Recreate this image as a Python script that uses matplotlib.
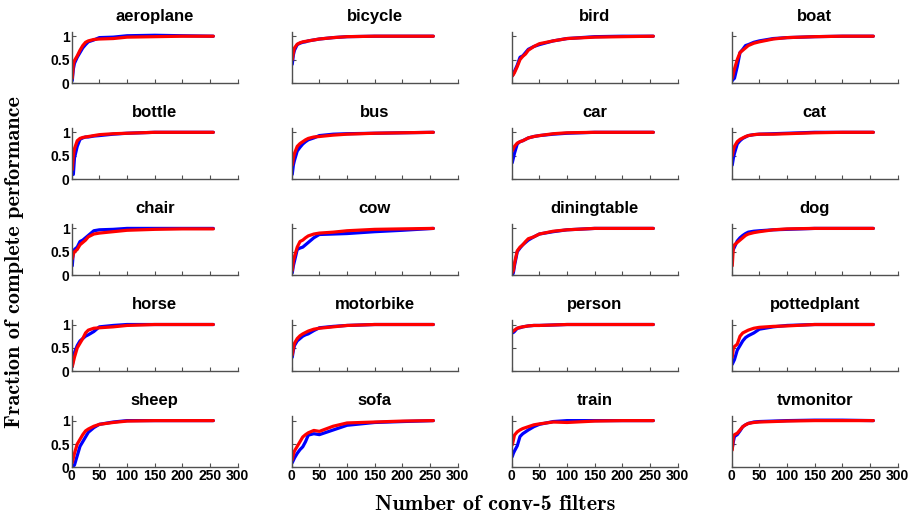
import numpy as np
import matplotlib
matplotlib.use("Agg")
import matplotlib.pyplot as plt

# number of conv-5 filters where the curves were read
filters = [1, 3, 5, 10, 15, 20, 25, 30, 40, 50, 75, 100, 150, 200, 256]

classes = ['aeroplane', 'bicycle', 'bird', 'boat',
           'bottle', 'bus', 'car', 'cat',
           'chair', 'cow', 'diningtable', 'dog',
           'horse', 'motorbike', 'person', 'pottedplant',
           'sheep', 'sofa', 'train', 'tvmonitor']

# blue curves
blue = {
    'aeroplane':   [0.05, 0.30, 0.42, 0.55, 0.65, 0.75, 0.82, 0.88, 0.92, 0.97, 0.98, 1.01, 1.02, 1.01, 1.00],
    'bicycle':     [0.40, 0.60, 0.70, 0.82, 0.85, 0.87, 0.88, 0.90, 0.92, 0.94, 0.97, 0.99, 1.00, 1.00, 1.00],
    'bird':        [0.15, 0.20, 0.25, 0.38, 0.55, 0.58, 0.65, 0.72, 0.78, 0.82, 0.90, 0.95, 0.99, 1.00, 1.00],
    'boat':        [0.05, 0.08, 0.10, 0.35, 0.65, 0.72, 0.80, 0.82, 0.87, 0.90, 0.95, 0.97, 0.99, 1.00, 1.00],
    'bottle':      [0.10, 0.10, 0.45, 0.70, 0.85, 0.88, 0.90, 0.90, 0.92, 0.93, 0.96, 0.98, 1.00, 1.00, 1.00],
    'bus':         [0.10, 0.30, 0.40, 0.60, 0.68, 0.75, 0.80, 0.84, 0.88, 0.93, 0.96, 0.97, 0.98, 0.99, 1.00],
    'car':         [0.35, 0.45, 0.55, 0.75, 0.80, 0.82, 0.85, 0.88, 0.91, 0.93, 0.96, 0.98, 1.00, 1.00, 1.00],
    'cat':         [0.30, 0.45, 0.55, 0.75, 0.82, 0.87, 0.90, 0.93, 0.95, 0.96, 0.97, 0.98, 1.00, 1.00, 1.00],
    'chair':       [0.20, 0.50, 0.55, 0.60, 0.72, 0.75, 0.80, 0.85, 0.95, 0.97, 0.98, 1.00, 1.00, 1.00, 1.00],
    'cow':         [0.05, 0.20, 0.30, 0.55, 0.58, 0.60, 0.65, 0.70, 0.80, 0.87, 0.88, 0.89, 0.93, 0.96, 1.00],
    'diningtable': [0.00, 0.05, 0.20, 0.50, 0.58, 0.65, 0.70, 0.75, 0.82, 0.88, 0.93, 0.97, 1.00, 1.00, 1.00],
    'dog':         [0.50, 0.55, 0.60, 0.73, 0.80, 0.85, 0.89, 0.92, 0.94, 0.95, 0.97, 0.98, 1.00, 1.00, 1.00],
    'horse':       [0.10, 0.30, 0.40, 0.55, 0.65, 0.70, 0.75, 0.78, 0.85, 0.95, 0.98, 1.00, 1.00, 1.00, 1.00],
    'motorbike':   [0.30, 0.45, 0.55, 0.65, 0.70, 0.75, 0.78, 0.80, 0.87, 0.93, 0.96, 0.98, 1.00, 1.00, 1.00],
    'person':      [0.82, 0.83, 0.85, 0.92, 0.93, 0.95, 0.96, 0.97, 0.98, 0.98, 0.99, 1.00, 1.00, 1.00, 1.00],
    'pottedplant': [0.15, 0.20, 0.25, 0.45, 0.55, 0.65, 0.72, 0.76, 0.82, 0.90, 0.95, 0.98, 1.00, 1.00, 1.00],
    'sheep':       [0.00, 0.03, 0.05, 0.25, 0.45, 0.55, 0.65, 0.75, 0.85, 0.92, 0.97, 1.00, 1.00, 1.00, 1.00],
    'sofa':        [0.10, 0.15, 0.20, 0.30, 0.38, 0.44, 0.55, 0.69, 0.72, 0.70, 0.80, 0.90, 0.96, 0.98, 1.00],
    'train':       [0.23, 0.30, 0.35, 0.46, 0.66, 0.72, 0.76, 0.80, 0.87, 0.92, 0.98, 1.00, 1.00, 1.00, 1.00],
    'tvmonitor':   [0.41, 0.55, 0.66, 0.70, 0.78, 0.87, 0.91, 0.94, 0.97, 0.98, 0.99, 1.00, 1.01, 1.01, 1.00],
}

# red curves
red = {
    'aeroplane':   [0.10, 0.40, 0.48, 0.58, 0.70, 0.80, 0.87, 0.90, 0.93, 0.94, 0.95, 0.98, 0.99, 1.00, 1.00],
    'bicycle':     [0.50, 0.65, 0.75, 0.83, 0.86, 0.88, 0.89, 0.90, 0.92, 0.94, 0.97, 0.99, 1.00, 1.00, 1.00],
    'bird':        [0.15, 0.18, 0.22, 0.35, 0.50, 0.57, 0.62, 0.70, 0.78, 0.84, 0.90, 0.95, 0.98, 0.99, 1.00],
    'boat':        [0.10, 0.20, 0.30, 0.50, 0.65, 0.70, 0.75, 0.80, 0.85, 0.88, 0.94, 0.97, 0.99, 1.00, 1.00],
    'bottle':      [0.20, 0.50, 0.65, 0.82, 0.87, 0.89, 0.90, 0.91, 0.93, 0.95, 0.97, 0.98, 1.00, 1.00, 1.00],
    'bus':         [0.30, 0.45, 0.55, 0.70, 0.76, 0.80, 0.84, 0.87, 0.90, 0.91, 0.94, 0.96, 0.98, 0.99, 1.00],
    'car':         [0.60, 0.65, 0.70, 0.77, 0.80, 0.82, 0.85, 0.88, 0.91, 0.93, 0.97, 0.99, 1.00, 1.00, 1.00],
    'cat':         [0.50, 0.62, 0.70, 0.80, 0.85, 0.88, 0.91, 0.93, 0.95, 0.96, 0.96, 0.97, 0.99, 1.00, 1.00],
    'chair':       [0.35, 0.45, 0.50, 0.55, 0.65, 0.70, 0.75, 0.82, 0.88, 0.90, 0.93, 0.96, 0.98, 0.99, 0.99],
    'cow':         [0.10, 0.30, 0.40, 0.60, 0.72, 0.75, 0.80, 0.84, 0.88, 0.90, 0.92, 0.95, 0.98, 0.99, 1.00],
    'diningtable': [0.05, 0.10, 0.25, 0.52, 0.60, 0.65, 0.72, 0.78, 0.82, 0.88, 0.94, 0.97, 1.00, 1.00, 1.00],
    'dog':         [0.20, 0.60, 0.65, 0.70, 0.75, 0.80, 0.85, 0.88, 0.91, 0.93, 0.97, 0.99, 1.00, 1.00, 1.00],
    'horse':       [0.10, 0.20, 0.30, 0.50, 0.60, 0.70, 0.82, 0.88, 0.92, 0.93, 0.95, 0.98, 1.00, 1.00, 1.00],
    'motorbike':   [0.35, 0.50, 0.60, 0.70, 0.76, 0.80, 0.83, 0.86, 0.90, 0.92, 0.95, 0.98, 1.00, 1.00, 1.00],
    'person':      [0.85, 0.86, 0.88, 0.92, 0.94, 0.95, 0.96, 0.97, 0.98, 0.98, 0.99, 1.00, 1.00, 1.00, 1.00],
    'pottedplant': [0.30, 0.50, 0.53, 0.58, 0.75, 0.82, 0.85, 0.88, 0.92, 0.94, 0.96, 0.97, 1.00, 1.00, 1.00],
    'sheep':       [0.10, 0.20, 0.30, 0.50, 0.60, 0.70, 0.78, 0.82, 0.88, 0.92, 0.96, 0.99, 1.00, 1.00, 1.00],
    'sofa':        [0.16, 0.28, 0.35, 0.45, 0.55, 0.65, 0.70, 0.74, 0.79, 0.77, 0.88, 0.95, 0.97, 0.99, 1.00],
    'train':       [0.48, 0.58, 0.69, 0.76, 0.80, 0.83, 0.85, 0.87, 0.91, 0.93, 0.97, 0.96, 0.99, 1.00, 1.00],
    'tvmonitor':   [0.37, 0.66, 0.70, 0.73, 0.80, 0.87, 0.91, 0.94, 0.96, 0.97, 0.98, 0.99, 1.00, 1.00, 1.00],
}

xticks = [0, 50, 100, 150, 200, 250, 300]
yticks = [0, 0.5, 1]
yticklabels = ['0', '0.5', '1']

sans = 'Liberation Sans'
serif = ['cmb10', 'DejaVu Serif']

W, H = 912, 516
fig = plt.figure(figsize=(W / 100, H / 100), dpi=100)

# axes geometry in pixels
left0, colstep, axw = 71.7, 220.0, 166.0
bottom0, rowstep, axh = 83.0, 96.1, 51.0

for k, name in enumerate(classes):
    r, c = divmod(k, 4)
    x0 = left0 + c * colstep
    yb = bottom0 + r * rowstep
    ax = fig.add_axes([x0 / W, 1 - yb / H, axw / W, axh / H])
    ax.plot(filters, blue[name], color='#0000ff', lw=2.3, solid_capstyle='round')
    ax.plot(filters, red[name], color='#ff0000', lw=2.3, solid_capstyle='round')
    ax.set_xlim(0, 300)
    ax.set_ylim(0, 1.09)
    ax.spines['top'].set_visible(False)
    ax.spines['right'].set_visible(False)
    for s in ('left', 'bottom'):
        ax.spines[s].set_color('#505050')
        ax.spines[s].set_linewidth(1.0)
    ax.set_xticks(xticks)
    ax.set_yticks(yticks)
    ax.tick_params(direction='in', length=3, width=0.8, colors='#505050',
                   labelcolor='black', pad=1.5)
    if c == 0:
        ax.set_yticklabels(yticklabels, fontfamily=sans, fontweight='bold', fontsize=10)
    else:
        ax.set_yticklabels([])
    if r == 4:
        ax.set_xticklabels([str(t) for t in xticks], fontfamily=sans, fontweight='bold', fontsize=10)
    else:
        ax.set_xticklabels([])
    ax.set_title(name, fontfamily=sans, fontweight='bold', fontsize=12, pad=8)

fig.text(495 / W, 1 - 505 / H, 'Number of conv-5 filters', ha='center', va='center',
         fontfamily=serif, fontsize=16)
fig.text(15 / W, 1 - 262 / H, 'Fraction of complete performance', ha='center', va='center',
         rotation=90, fontfamily=serif, fontsize=16)

fig.savefig('out.png', dpi=100)
